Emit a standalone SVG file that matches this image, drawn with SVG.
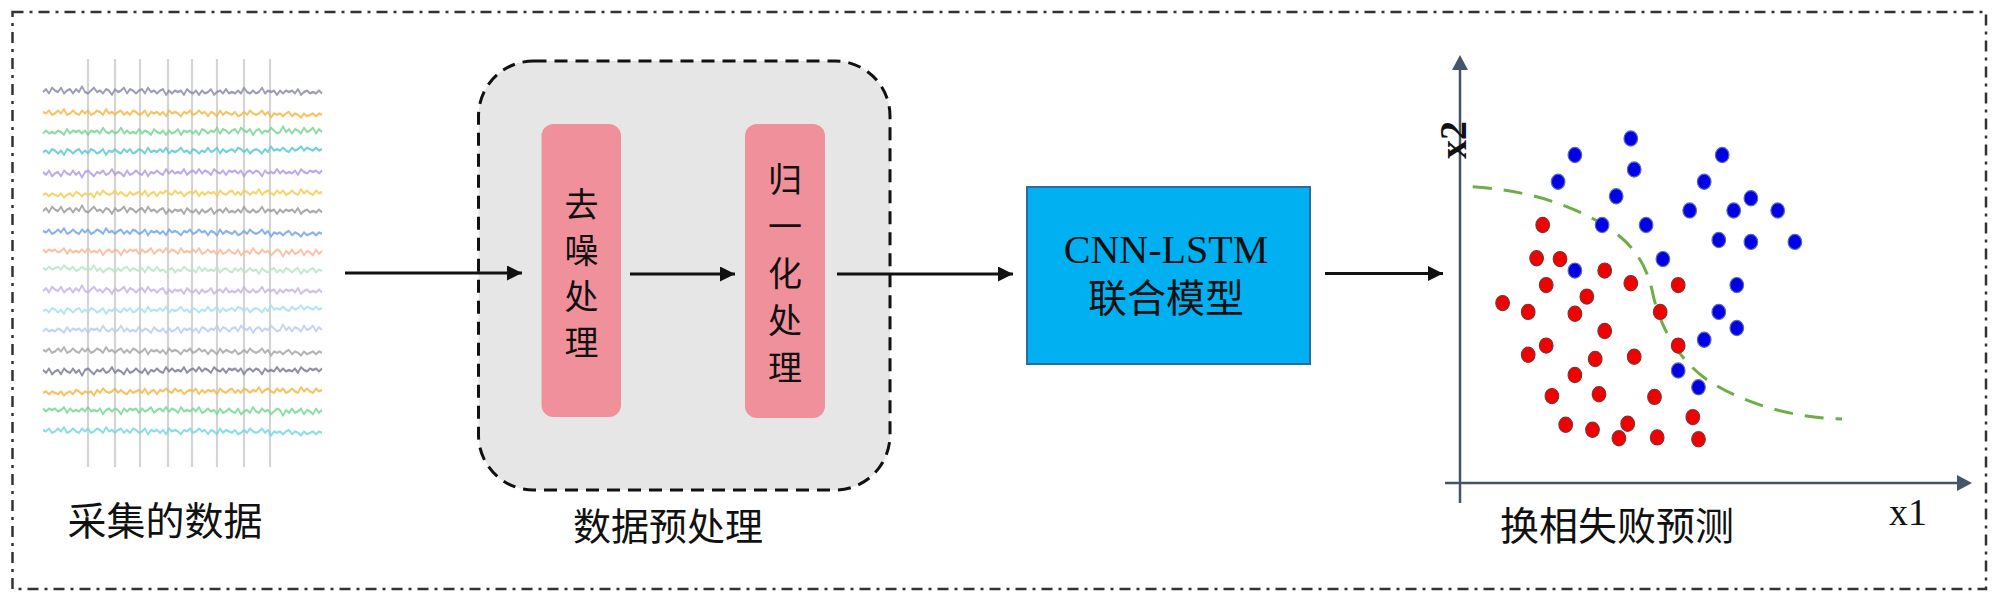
<svg xmlns="http://www.w3.org/2000/svg" xmlns:xlink="http://www.w3.org/1999/xlink" width="2000" height="598" viewBox="0 0 2000 598">
<style>
.cjk{font-family:"Noto Sans CJK SC","Noto Sans CJK JP",sans-serif;fill:#111;}
.lat{font-family:"Liberation Serif","Times New Roman",serif;fill:#111;}
.trace{fill:none;stroke-width:1.7;stroke-linejoin:round;opacity:0.85;}
.vl{stroke:#d4d4d4;stroke-width:2.2;}
.arrow{stroke:#111;stroke-width:3;fill:none;marker-end:url(#ah);}
.axis{stroke:#44546a;stroke-width:2.5;fill:none;}
.red{fill:#f20000;stroke:#8a3030;stroke-width:1.2;}
.blue{fill:#0000e6;stroke:#5a6ab8;stroke-width:1.2;}
</style>
<defs>
<marker id="ah" markerUnits="userSpaceOnUse" markerWidth="16" markerHeight="15" refX="15" refY="7.5" orient="auto">
<path d="M0,0 L15,7.5 L0,15 z" fill="#111"/>
</marker>
<path id="nA" d="M0 0 l3 -2 3 3 3 -4 3 2 3 1 3 -3 3 4 3 -2 3 -1 3 3 3 -3 3 2 3 -4 3 4 3 1 3 -2 3 -2 3 3 3 -1 3 2 3 -3 3 1 3 3 3 -4 3 2 3 -1 3 -2 3 4 3 -3 3 1 3 2 3 -2 3 -1 3 3 3 -4 3 3 3 -1 3 2 3 -2 3 -1 3 4 3 -3 3 2 3 -2 3 1 3 -1 3 3 3 -4 3 2 3 1 3 -2 3 3 3 -3 3 2 3 -1 3 -2 3 4 3 -2 3 -1 3 2 3 -3 3 3 3 -1 3 1 3 -2 3 2 3 -4 3 3 3 1 3 -2 3 2 3 -1 3 -3 3 4 3 -2 3 1 3 -1 3 3 3 -3 3 2 3 -2 3 1 3 -1 3 2 3 -3 3 4 3 -2 3 -1 3 2 3 -1 3 1 3 -2 3 2"/>
<path id="nB" d="M0 0 l3 1 3 -2 3 3 3 -1 3 -2 3 2 3 -3 3 4 3 -1 3 -2 3 2 3 1 3 -3 3 2 3 -2 3 3 3 -1 3 -2 3 1 3 2 3 -4 3 3 3 -1 3 2 3 -2 3 -1 3 3 3 -2 3 2 3 -3 3 1 3 2 3 -1 3 -2 3 4 3 -3 3 1 3 -1 3 2 3 -2 3 3 3 -4 3 2 3 -1 3 1 3 2 3 -3 3 1 3 -2 3 3 3 -1 3 -2 3 2 3 -1 3 3 3 -3 3 1 3 2 3 -4 3 3 3 -2 3 1 3 1 3 -2 3 3 3 -1 3 -2 3 2 3 -3 3 2 3 1 3 -1 3 -2 3 3 3 -2 3 4 3 -3 3 1 3 -1 3 2 3 -2 3 -1 3 3 3 -2 3 1 3 2 3 -3 3 2 3 -1 3 -1 3 2 3 -2 3 1"/>
</defs>
<rect width="2000" height="598" fill="#ffffff"/>
<rect id="frame" x="12.5" y="12" width="1973.5" height="577" fill="none" stroke="#333" stroke-width="2.5" stroke-dasharray="11 6 3 6"/>

<g id="data">
<g>
<line class="vl" x1="88" y1="59" x2="88" y2="467"/>
<line class="vl" x1="115" y1="59" x2="115" y2="467"/>
<line class="vl" x1="140" y1="59" x2="140" y2="467"/>
<line class="vl" x1="168" y1="59" x2="168" y2="467"/>
<line class="vl" x1="192" y1="59" x2="192" y2="467"/>
<line class="vl" x1="217" y1="59" x2="217" y2="467"/>
<line class="vl" x1="244" y1="59" x2="244" y2="467"/>
<line class="vl" x1="270" y1="59" x2="270" y2="467"/>
</g>
<g>
<use href="#nA" class="trace" stroke="#8c8ca8" transform="translate(43,92) scale(1,1.4)"/>
<use href="#nB" class="trace" stroke="#f7b84a" transform="translate(43,112) scale(1,1.4)"/>
<use href="#nA" class="trace" stroke="#7ad694" transform="translate(322,132) scale(-1,1.4)"/>
<use href="#nB" class="trace" stroke="#5cc8d6" transform="translate(43,152) scale(1,-1.4)"/>
<use href="#nA" class="trace" stroke="#b49ae6" transform="translate(43,172) scale(1,-1.4)"/>
<use href="#nB" class="trace" stroke="#f5cc55" transform="translate(322,192) scale(-1,1.4)"/>
<use href="#nA" class="trace" stroke="#9c9c9c" transform="translate(43,211) scale(1,1.4)"/>
<use href="#nB" class="trace" stroke="#74a6e8" transform="translate(43,231) scale(1,1.4)"/>
<use href="#nA" class="trace" stroke="#f8b898" transform="translate(322,251) scale(-1,-1.4)"/>
<use href="#nB" class="trace" stroke="#b8e6c8" transform="translate(322,271) scale(-1,-1.4)"/>
<use href="#nA" class="trace" stroke="#c4b4ec" transform="translate(43,291) scale(1,1.4)"/>
<use href="#nB" class="trace" stroke="#a6e2f0" transform="translate(43,311) scale(1,-1.4)"/>
<use href="#nA" class="trace" stroke="#b8ccf2" transform="translate(322,330) scale(-1,1.4)"/>
<use href="#nB" class="trace" stroke="#a8a8a8" transform="translate(43,350) scale(1,1.4)"/>
<use href="#nA" class="trace" stroke="#7c7c96" transform="translate(43,370) scale(1,-1.4)"/>
<use href="#nB" class="trace" stroke="#f6b845" transform="translate(322,390) scale(-1,1.4)"/>
<use href="#nA" class="trace" stroke="#78d898" transform="translate(322,410) scale(-1,-1.4)"/>
<use href="#nB" class="trace" stroke="#78d8e0" transform="translate(43,430) scale(1,1.4)"/>
</g>
<text class="cjk" x="165" y="535" font-size="39" text-anchor="middle">采集的数据</text>
</g>

<g id="preprocess">
<rect x="478.5" y="61" width="411.5" height="429" rx="55" ry="55" fill="#e6e6e6" stroke="#111" stroke-width="3" stroke-dasharray="13 8"/>
<text class="cjk" x="668" y="540" font-size="38" text-anchor="middle">数据预处理</text>
</g>

<g id="denoise">
<rect x="541.5" y="124" width="79.5" height="293" rx="12" ry="12" fill="#f0909a"/>
<text class="cjk" font-size="34" text-anchor="middle"><tspan x="581.5" y="217">去</tspan><tspan x="581.5" y="263">噪</tspan><tspan x="581.5" y="309">处</tspan><tspan x="581.5" y="355">理</tspan></text>
</g>

<g id="normalize">
<rect x="745" y="124" width="80" height="294" rx="12" ry="12" fill="#f0909a"/>
<text class="cjk" font-size="34" text-anchor="middle"><tspan x="785" y="192">归</tspan><tspan x="785" y="239">一</tspan><tspan x="785" y="286">化</tspan><tspan x="785" y="333">处</tspan><tspan x="785" y="380">理</tspan></text>
</g>

<g id="model">
<rect x="1027" y="187" width="283" height="177" fill="#00b0f0" stroke="#2e6aa0" stroke-width="2"/>
<text class="lat" x="1166" y="263" font-size="40" text-anchor="middle">CNN-LSTM</text>
<text class="cjk" x="1166" y="312" font-size="39" text-anchor="middle">联合模型</text>
</g>

<g id="prediction">
<line class="axis" x1="1460" y1="503" x2="1460" y2="66"/>
<polygon points="1460,55 1468,70 1452,70" fill="#44546a"/>
<line class="axis" x1="1445" y1="483" x2="1960" y2="483"/>
<polygon points="1972,483 1957,475 1957,491" fill="#44546a"/>
<text class="lat" font-size="38" font-weight="bold" text-anchor="middle" transform="translate(1466,140) rotate(-90)">x2</text>
<text class="lat" x="1889" y="525" font-size="38">x1</text>
<path d="M1472.7,186.8 C1520,190 1560,200 1599,222 C1630,240 1645,260 1652,290 C1660,330 1680,360 1706,379 C1740,402 1790,418 1842,419" fill="none" stroke="#70ad47" stroke-width="3" stroke-dasharray="19 12"/>
<g>
<ellipse class="blue" cx="1630.8" cy="138.5" rx="6.8" ry="7.6"/>
<ellipse class="blue" cx="1574.9" cy="155" rx="6.8" ry="7.6"/>
<ellipse class="blue" cx="1722.2" cy="155" rx="6.8" ry="7.6"/>
<ellipse class="blue" cx="1634.2" cy="169.5" rx="6.8" ry="7.6"/>
<ellipse class="blue" cx="1558.1" cy="181.8" rx="6.8" ry="7.6"/>
<ellipse class="blue" cx="1704.2" cy="181.8" rx="6.8" ry="7.6"/>
<ellipse class="blue" cx="1616.2" cy="196.3" rx="6.8" ry="7.6"/>
<ellipse class="blue" cx="1750.9" cy="198.2" rx="6.8" ry="7.6"/>
<ellipse class="blue" cx="1689.7" cy="210.5" rx="6.8" ry="7.6"/>
<ellipse class="blue" cx="1733.7" cy="210.5" rx="6.8" ry="7.6"/>
<ellipse class="blue" cx="1777.7" cy="210.5" rx="6.8" ry="7.6"/>
<ellipse class="blue" cx="1602.1" cy="225" rx="6.8" ry="7.6"/>
<ellipse class="blue" cx="1646.1" cy="225" rx="6.8" ry="7.6"/>
<ellipse class="blue" cx="1718.8" cy="240" rx="6.8" ry="7.6"/>
<ellipse class="blue" cx="1750.9" cy="241.9" rx="6.8" ry="7.6"/>
<ellipse class="blue" cx="1794.9" cy="241.9" rx="6.8" ry="7.6"/>
<ellipse class="blue" cx="1662.9" cy="259.1" rx="6.8" ry="7.6"/>
<ellipse class="blue" cx="1574.9" cy="270.6" rx="6.8" ry="7.6"/>
<ellipse class="blue" cx="1736.8" cy="285.1" rx="6.8" ry="7.6"/>
<ellipse class="blue" cx="1718.8" cy="311.9" rx="6.8" ry="7.6"/>
<ellipse class="blue" cx="1736.8" cy="328" rx="6.8" ry="7.6"/>
<ellipse class="blue" cx="1704.2" cy="339.8" rx="6.8" ry="7.6"/>
<ellipse class="blue" cx="1678.2" cy="370.5" rx="6.8" ry="7.6"/>
<ellipse class="blue" cx="1698.5" cy="387.3" rx="6.8" ry="7.6"/>
</g>
<g>
<ellipse class="red" cx="1542.7" cy="225" rx="6.8" ry="7.6"/>
<ellipse class="red" cx="1536.6" cy="258.3" rx="6.8" ry="7.6"/>
<ellipse class="red" cx="1560" cy="259.1" rx="6.8" ry="7.6"/>
<ellipse class="red" cx="1604.7" cy="270.6" rx="6.8" ry="7.6"/>
<ellipse class="red" cx="1546.2" cy="285.1" rx="6.8" ry="7.6"/>
<ellipse class="red" cx="1630.8" cy="283.2" rx="6.8" ry="7.6"/>
<ellipse class="red" cx="1678.2" cy="285.1" rx="6.8" ry="7.6"/>
<ellipse class="red" cx="1586.8" cy="296.6" rx="6.8" ry="7.6"/>
<ellipse class="red" cx="1502.6" cy="303.1" rx="6.8" ry="7.6"/>
<ellipse class="red" cx="1528.2" cy="311.9" rx="6.8" ry="7.6"/>
<ellipse class="red" cx="1574.9" cy="313.8" rx="6.8" ry="7.6"/>
<ellipse class="red" cx="1660.2" cy="311.9" rx="6.8" ry="7.6"/>
<ellipse class="red" cx="1604.7" cy="331" rx="6.8" ry="7.6"/>
<ellipse class="red" cx="1546.2" cy="345.6" rx="6.8" ry="7.6"/>
<ellipse class="red" cx="1528.2" cy="354.8" rx="6.8" ry="7.6"/>
<ellipse class="red" cx="1678.2" cy="345.6" rx="6.8" ry="7.6"/>
<ellipse class="red" cx="1595.2" cy="359" rx="6.8" ry="7.6"/>
<ellipse class="red" cx="1634.2" cy="356.7" rx="6.8" ry="7.6"/>
<ellipse class="red" cx="1574.9" cy="375" rx="6.8" ry="7.6"/>
<ellipse class="red" cx="1551.9" cy="396.1" rx="6.8" ry="7.6"/>
<ellipse class="red" cx="1599" cy="394.2" rx="6.8" ry="7.6"/>
<ellipse class="red" cx="1654.5" cy="396.9" rx="6.8" ry="7.6"/>
<ellipse class="red" cx="1692.8" cy="417.1" rx="6.8" ry="7.6"/>
<ellipse class="red" cx="1565.7" cy="424.8" rx="6.8" ry="7.6"/>
<ellipse class="red" cx="1592.5" cy="429.8" rx="6.8" ry="7.6"/>
<ellipse class="red" cx="1627.7" cy="423.7" rx="6.8" ry="7.6"/>
<ellipse class="red" cx="1618.9" cy="438.2" rx="6.8" ry="7.6"/>
<ellipse class="red" cx="1657.2" cy="437.4" rx="6.8" ry="7.6"/>
<ellipse class="red" cx="1698.5" cy="439.3" rx="6.8" ry="7.6"/>
</g>
<text class="cjk" x="1617" y="540" font-size="39" text-anchor="middle">换相失败预测</text>
</g>

<g id="connectors">
<line class="arrow" x1="345" y1="273" x2="522" y2="273"/>
<line class="arrow" x1="630" y1="274" x2="735" y2="274"/>
<line class="arrow" x1="837" y1="274" x2="1013" y2="274"/>
<line class="arrow" x1="1325" y1="273.5" x2="1443" y2="273.5"/>
</g>
</svg>
